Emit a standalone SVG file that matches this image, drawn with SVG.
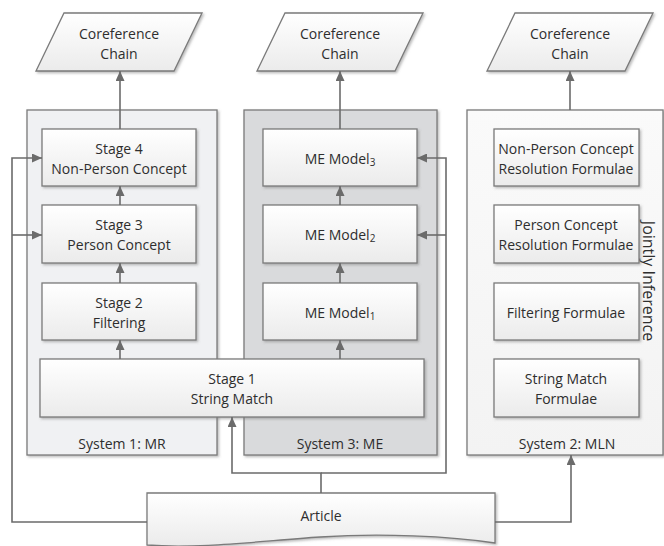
<svg xmlns="http://www.w3.org/2000/svg" width="664" height="546" viewBox="0 0 664 546">
<style>
text{font-family:"Open Sans","Noto Sans","Liberation Sans",sans-serif;font-size:14px;fill:#2e2e2e;text-anchor:middle;dominant-baseline:central}
.box{fill:url(#g);stroke:#7a7a7a;stroke-width:1.3;filter:url(#sh)}
.conn{fill:none;stroke:#6b6b6b;stroke-width:1.6}
.arr{marker-end:url(#ah)}
.sys{stroke:#7a7a7a;stroke-width:1.3;filter:url(#sh)}
</style>
<defs>
<linearGradient id="g" x1="0" y1="0" x2="0" y2="1">
<stop offset="0" stop-color="#ffffff"/>
<stop offset="1" stop-color="#ebebeb"/>
</linearGradient>
<linearGradient id="g2" x1="0" y1="0" x2="0" y2="1">
<stop offset="0" stop-color="#fafafa"/>
<stop offset="1" stop-color="#f3f3f3"/>
</linearGradient>
<filter id="sh" x="-10%" y="-10%" width="130%" height="130%">
<feDropShadow dx="1.5" dy="1.5" stdDeviation="0.8" flood-color="#777" flood-opacity="0.5"/>
</filter>
<marker id="ah" markerUnits="userSpaceOnUse" markerWidth="10" markerHeight="9" viewBox="0 0 10 9" refX="10" refY="4.5" orient="auto">
<path d="M0,0 L10,4.5 L0,9 z" fill="#6b6b6b"/>
</marker>
</defs>

<g id="out1"><polygon class="box" points="64,13 202,13 174,71 36,71"/><text x="119" y="33">Coreference</text><text x="119" y="53">Chain</text></g>
<g id="out3"><polygon class="box" points="285,13 423,13 395,71 257,71"/><text x="340" y="33">Coreference</text><text x="340" y="53">Chain</text></g>
<g id="out2"><polygon class="box" points="515,13 653,13 625,71 487,71"/><text x="570" y="33">Coreference</text><text x="570" y="53">Chain</text></g>

<g id="sys1"><rect class="sys" x="27" y="110" width="190" height="345" fill="#f0f1f3"/><text x="122" y="443">System 1: MR</text></g>
<g id="sys3"><rect class="sys" x="244" y="110" width="193" height="345" fill="#d9dadc"/><text x="340" y="443">System 3: ME</text></g>
<g id="sys2"><rect class="sys" x="467" y="110" width="196" height="345" fill="url(#g2)"/><text x="567" y="443">System 2: MLN</text>
<text transform="translate(649,281) rotate(90)" style="font-size:16px">Jointly Inference</text></g>

<g id="stage4"><rect class="box" x="42" y="129" width="154" height="57"/><text x="119" y="148">Stage 4</text><text x="119" y="168">Non-Person Concept</text></g>
<g id="stage3"><rect class="box" x="42" y="205" width="154" height="58"/><text x="119" y="224">Stage 3</text><text x="119" y="244">Person Concept</text></g>
<g id="stage2"><rect class="box" x="42" y="283" width="154" height="57"/><text x="119" y="302">Stage 2</text><text x="119" y="322">Filtering</text></g>

<g id="me3"><rect class="box" x="263" y="129" width="154" height="57"/><text x="340" y="158">ME Model<tspan font-size="10" dy="4">3</tspan></text></g>
<g id="me2"><rect class="box" x="263" y="205" width="154" height="58"/><text x="340" y="234">ME Model<tspan font-size="10" dy="4">2</tspan></text></g>
<g id="me1"><rect class="box" x="263" y="283" width="154" height="57"/><text x="340" y="312">ME Model<tspan font-size="10" dy="4">1</tspan></text></g>

<g id="stage1"><rect class="box" x="40" y="359" width="384" height="58"/><text x="232" y="378">Stage 1</text><text x="232" y="398">String Match</text></g>

<g id="f4"><rect class="box" x="494" y="129" width="145" height="57"/><text x="566" y="148">Non-Person Concept</text><text x="566" y="168">Resolution Formulae</text></g>
<g id="f3"><rect class="box" x="494" y="205" width="145" height="58"/><text x="566" y="224">Person Concept</text><text x="566" y="244">Resolution Formulae</text></g>
<g id="f2"><rect class="box" x="494" y="283" width="145" height="57"/><text x="566" y="312">Filtering Formulae</text></g>
<g id="f1"><rect class="box" x="494" y="359" width="145" height="58"/><text x="566" y="378">String Match</text><text x="566" y="398">Formulae</text></g>

<g id="article"><path class="box" d="M147,493 H495 V543 C450,536 380,533 320,537 C260,541 200,549 147,545 Z"/><text x="321" y="515">Article</text></g>

<g id="connectors">
<path class="conn arr" d="M120,129 V71"/>
<path class="conn arr" d="M340,129 V71"/>
<path class="conn arr" d="M570,110 V71"/>
<path class="conn arr" d="M120,359 V340"/>
<path class="conn arr" d="M120,283 V263"/>
<path class="conn arr" d="M120,205 V186"/>
<path class="conn arr" d="M340,359 V340"/>
<path class="conn arr" d="M340,283 V263"/>
<path class="conn arr" d="M340,205 V186"/>
<path class="conn arr" d="M147,522 H12 V158 H42"/>
<path class="conn arr" d="M12,235 H42"/>
<path class="conn arr" d="M321,493 V473 H232 V417"/>
<path class="conn arr" d="M321,473 H446 V158 H417"/>
<path class="conn arr" d="M446,235 H417"/>
<path class="conn arr" d="M495,522 H571 V455"/>
</g>
</svg>
